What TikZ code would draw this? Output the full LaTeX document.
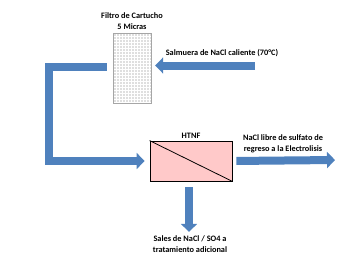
\documentclass[tikz,border=0pt]{standalone}
\usepackage{fontspec}
\setmainfont{Carlito}
\usepackage{xcolor}
\usetikzlibrary{positioning, arrows.meta}

\definecolor{flowblue}{HTML}{4F81BD}
\definecolor{membpink}{HTML}{FFC9C9}

\tikzset{
  lbl/.style={font=\bfseries\fontsize{8.3}{11}\selectfont, align=center, inner sep=1pt},
  flow/.style={flowblue, line width=8pt,
    -{Triangle[length=8pt, width=16pt]}},
}

\begin{document}
\begin{tikzpicture}[x=1pt, y=-1pt]
\useasboundingbox (0,0) rectangle (350,266);
% cartridge filter
\node[draw=gray!70, fill=gray!25, minimum width=38pt, minimum height=70pt,
      inner sep=0pt] (filter) at (132,68) {};
\draw[white, line width=0.6pt, step=3pt, shift={(113.5,33.5)}]
  (0.8,0.8) grid (37,69);
\draw[gray!70] (filter.north west) rectangle (filter.south east);
\node[lbl, above=2pt of filter] (filterlbl) {Filtro de Cartucho\\5 Micras};
% membrane unit
\node[draw, thick, fill=membpink, minimum width=82pt, minimum height=40pt,
      inner sep=0pt] (htnf) at (191,161) {};
\draw[thick] (htnf.north west) -- (htnf.south east);
\node[lbl, above=1pt of htnf] (htnflbl) {HTNF};
% streams
\coordinate (in) at (255,65.5);
\coordinate (out) at (335,160);
\node[lbl] (inlbl) at (222,53) {Salmuera de NaCl caliente (70°C)};
\node[lbl] (outlbl) at (283,143.5) {NaCl libre de sulfato de\\regreso a la Electrolisis};
\node[lbl] (sales) at (190,244.5) {Sales de NaCl / SO4 a\\tratamiento adicional};
\draw[flow, shorten >=4pt] (in) -- (filter.east |- in);
\draw[flow, line join=miter, shorten <=6pt, shorten >=5pt]
  ([yshift=1.3pt]filter.west) -| (49,161) -- (htnf.west);
\draw[flow, shorten <=4pt] (htnf.east) -- (out);
\draw[flow, shorten <=6pt, shorten >=3pt] ([xshift=-2pt]htnf.south) -- ([xshift=-1pt]sales.north);
\end{tikzpicture}
\end{document}
